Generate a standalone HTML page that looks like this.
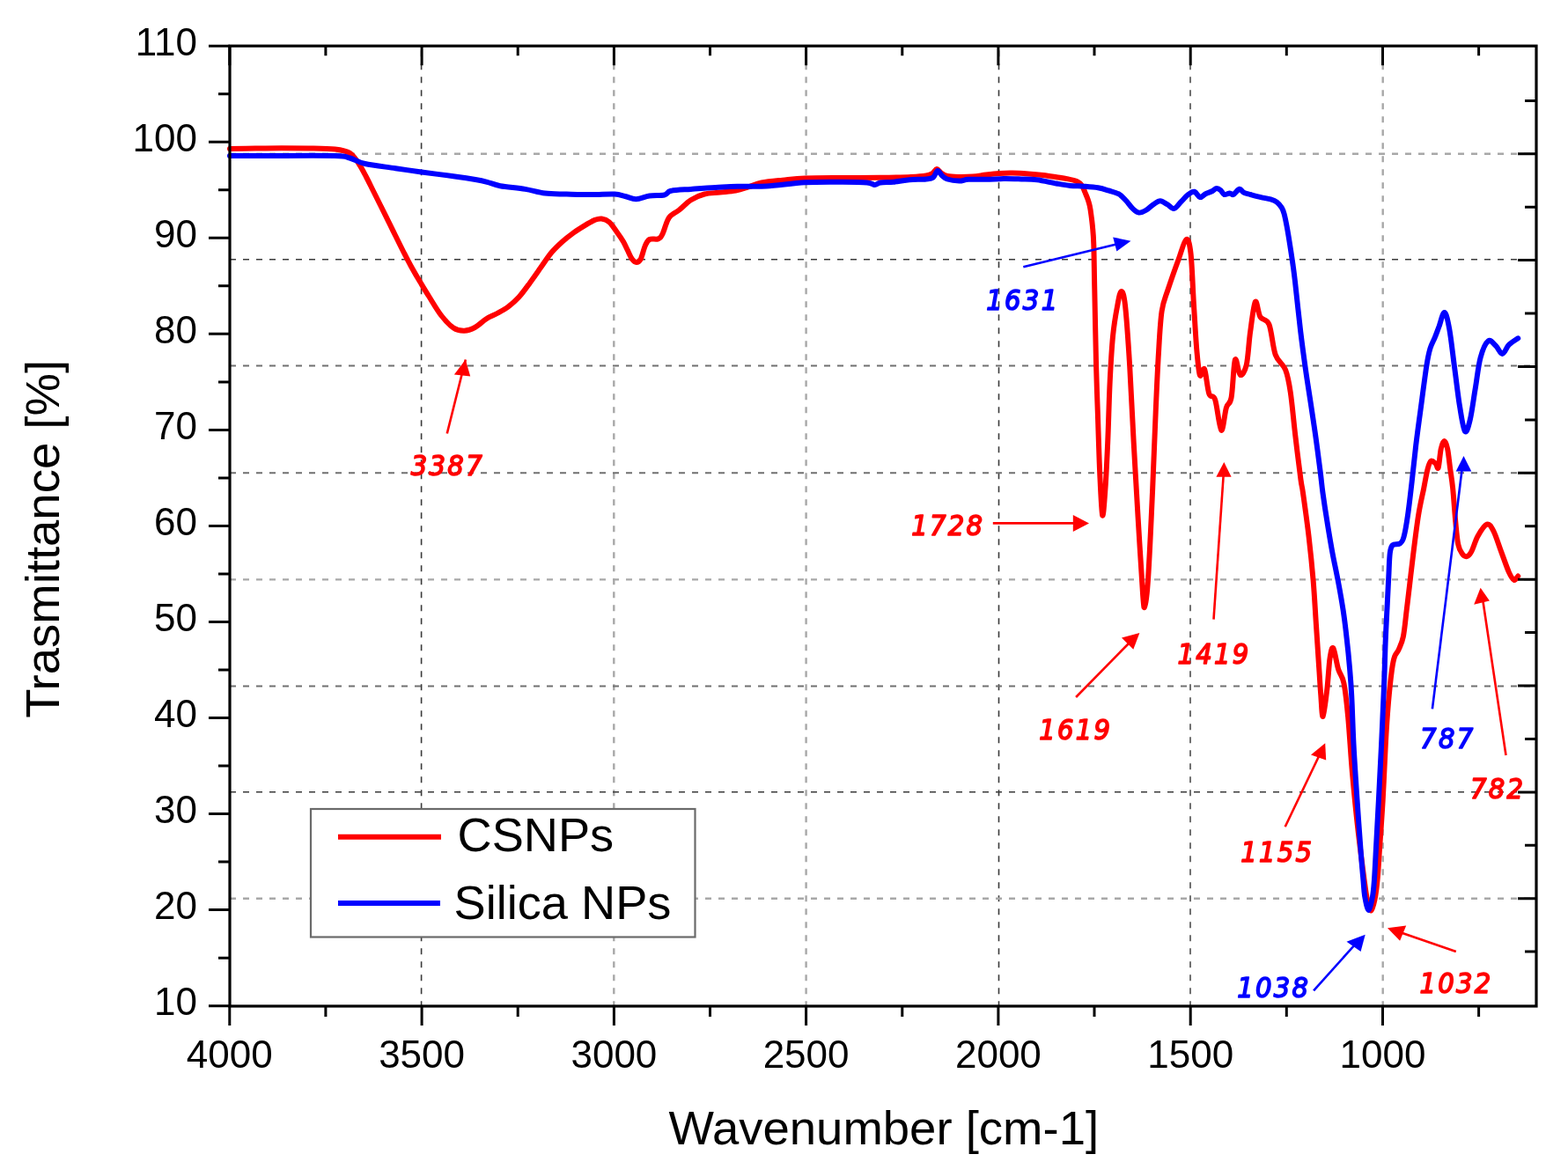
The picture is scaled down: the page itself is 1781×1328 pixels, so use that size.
<!DOCTYPE html><html><head><meta charset="utf-8"><title>FTIR</title><style>html,body{margin:0;padding:0;background:#fff;}svg{display:block;}.tk{font-family:"Liberation Sans",Arial,sans-serif;font-size:44px;fill:#000;}.ax{font-family:"Liberation Sans",Arial,sans-serif;font-size:54.5px;fill:#000;}.lg{font-family:"Liberation Sans",Arial,sans-serif;font-size:54.2px;fill:#000;}.lb{font-family:"DejaVu Sans Condensed","DejaVu Sans",sans-serif;font-stretch:condensed;font-weight:normal;font-style:oblique;font-size:32.3px;stroke-width:1.55px;stroke-linejoin:round;letter-spacing:2.3px;}</style></head><body>
<svg width="1781" height="1328" viewBox="0 0 1781 1328">
<rect width="1781" height="1328" fill="#fff"/>
<line x1="478.6" y1="57.3" x2="478.6" y2="1143.0" stroke="#3a3a3a" stroke-width="1.6" stroke-dasharray="7 8"/>
<line x1="697.3" y1="57.3" x2="697.3" y2="1143.0" stroke="#a8a8a8" stroke-width="2.4" stroke-dasharray="7 8"/>
<line x1="915.6" y1="57.3" x2="915.6" y2="1143.0" stroke="#a8a8a8" stroke-width="2.4" stroke-dasharray="7 8"/>
<line x1="1134.5" y1="57.3" x2="1134.5" y2="1143.0" stroke="#3a3a3a" stroke-width="1.6" stroke-dasharray="7 8"/>
<line x1="1352.0" y1="57.3" x2="1352.0" y2="1143.0" stroke="#707070" stroke-width="2.0" stroke-dasharray="7 8"/>
<line x1="1570.7" y1="57.3" x2="1570.7" y2="1143.0" stroke="#a8a8a8" stroke-width="2.4" stroke-dasharray="7 8"/>
<line x1="261.0" y1="174.8" x2="1745.0" y2="174.8" stroke="#a8a8a8" stroke-width="2.4" stroke-dasharray="7 8"/>
<line x1="261.0" y1="294.7" x2="1745.0" y2="294.7" stroke="#3a3a3a" stroke-width="1.6" stroke-dasharray="7 8"/>
<line x1="261.0" y1="415.5" x2="1745.0" y2="415.5" stroke="#707070" stroke-width="2.0" stroke-dasharray="7 8"/>
<line x1="261.0" y1="537.3" x2="1745.0" y2="537.3" stroke="#707070" stroke-width="2.0" stroke-dasharray="7 8"/>
<line x1="261.0" y1="658.4" x2="1745.0" y2="658.4" stroke="#a8a8a8" stroke-width="2.4" stroke-dasharray="7 8"/>
<line x1="261.0" y1="779.4" x2="1745.0" y2="779.4" stroke="#707070" stroke-width="2.0" stroke-dasharray="7 8"/>
<line x1="261.0" y1="899.8" x2="1745.0" y2="899.8" stroke="#3a3a3a" stroke-width="1.6" stroke-dasharray="7 8"/>
<line x1="261.0" y1="1020.7" x2="1745.0" y2="1020.7" stroke="#a8a8a8" stroke-width="2.4" stroke-dasharray="7 8"/>
<path d="M261.0 169.0C265.8 168.9 280.2 168.7 290.0 168.6C299.8 168.5 310.0 168.2 320.0 168.2C330.0 168.2 339.9 168.2 350.0 168.4C360.1 168.6 372.6 168.6 380.5 169.5C388.4 170.4 392.8 171.1 397.3 173.9C401.8 176.7 404.6 181.7 407.7 186.2C410.8 190.7 413.3 195.9 416.0 201.0C418.7 206.1 421.3 211.7 424.0 217.0C426.7 222.3 429.2 227.4 432.0 233.0C434.8 238.6 437.7 244.5 440.6 250.3C443.5 256.1 446.4 262.1 449.3 268.0C452.2 273.9 455.1 279.8 458.0 285.5C460.9 291.2 463.4 296.2 466.6 302.0C469.8 307.8 473.5 314.2 477.0 320.0C480.5 325.8 483.3 330.6 487.4 337.0C491.4 343.4 496.7 352.6 501.3 358.5C505.9 364.4 510.8 369.6 515.1 372.5C519.4 375.4 523.2 375.8 527.3 375.7C531.3 375.6 535.2 374.2 539.4 372.0C543.6 369.8 548.2 364.9 552.4 362.2C556.6 359.5 560.6 358.3 564.7 356.0C568.8 353.7 573.0 351.7 577.1 348.6C581.2 345.5 585.3 342.0 589.4 337.5C593.5 333.0 597.7 327.0 601.8 321.4C605.9 315.8 610.0 309.9 614.1 304.1C618.2 298.3 622.4 291.7 626.5 286.8C630.6 281.9 634.7 278.2 638.8 274.5C642.9 270.8 647.1 267.6 651.2 264.6C655.3 261.6 659.4 259.1 663.5 256.6C667.6 254.1 672.6 251.2 675.9 249.8C679.2 248.5 680.6 248.1 683.3 248.5C686.0 248.9 689.0 249.7 691.9 252.2C694.8 254.7 697.9 259.7 700.6 263.4C703.3 267.1 706.0 271.0 708.0 274.5C710.0 278.0 711.2 281.1 712.9 284.4C714.5 287.7 716.2 291.9 717.9 294.2C719.5 296.4 721.1 297.9 722.8 297.9C724.4 297.9 726.1 297.3 727.8 294.2C729.4 291.1 731.1 283.1 732.7 279.4C734.4 275.7 735.2 273.3 737.7 272.0C740.2 270.7 745.0 272.4 747.5 271.4C750.0 270.4 750.4 269.8 752.5 265.8C754.6 261.8 756.7 251.9 759.9 247.3C763.1 242.8 767.4 241.8 771.5 238.5C775.6 235.2 779.9 230.2 784.7 227.2C789.5 224.2 794.7 221.9 800.2 220.5C805.7 219.1 812.0 219.3 817.9 218.6C823.8 217.9 830.2 217.5 835.6 216.5C841.0 215.5 845.1 214.0 850.0 212.5C854.9 211.0 858.6 208.8 865.1 207.5C871.6 206.2 880.5 205.5 888.7 204.7C896.9 203.9 903.3 202.9 914.3 202.5C925.3 202.1 940.4 202.1 954.7 202.0C969.0 201.9 986.6 202.0 1000.0 201.8C1013.4 201.6 1026.3 201.4 1035.0 201.0C1043.7 200.6 1048.0 200.2 1052.0 199.5C1056.0 198.8 1057.0 198.2 1059.0 197.0C1061.0 195.8 1062.3 192.1 1064.0 192.0C1065.7 191.9 1067.0 195.2 1069.0 196.5C1071.0 197.8 1072.8 199.2 1076.0 200.0C1079.2 200.8 1083.2 200.9 1088.0 201.0C1092.8 201.1 1099.7 201.0 1105.0 200.6C1110.3 200.2 1115.0 199.1 1120.0 198.5C1125.0 197.9 1130.0 197.3 1135.0 197.0C1140.0 196.7 1144.5 196.5 1150.0 196.6C1155.5 196.7 1162.2 197.1 1168.0 197.5C1173.8 197.9 1179.7 198.4 1185.0 199.0C1190.3 199.6 1195.5 200.5 1200.0 201.2C1204.5 201.9 1207.9 202.3 1211.8 203.1C1215.7 203.9 1220.7 204.9 1223.6 206.2C1226.5 207.5 1227.7 209.0 1229.1 211.0C1230.5 213.0 1231.2 215.5 1232.2 218.0C1233.2 220.5 1234.5 223.3 1235.4 225.9C1236.3 228.5 1237.0 230.5 1237.7 233.7C1238.4 236.9 1239.0 240.9 1239.5 245.0C1240.0 249.1 1240.5 252.5 1241.0 258.0C1241.5 263.5 1241.9 266.0 1242.3 277.9C1242.7 289.8 1242.8 306.3 1243.3 329.3C1243.8 352.3 1244.5 392.9 1245.1 416.0C1245.7 439.1 1246.1 447.8 1246.8 468.0C1247.5 488.2 1248.3 517.7 1249.2 537.3C1250.1 556.9 1251.2 582.6 1252.2 585.5C1253.2 588.4 1254.5 568.4 1255.5 554.6C1256.5 540.8 1257.3 522.8 1258.2 502.6C1259.1 482.4 1259.7 453.5 1260.7 433.3C1261.7 413.1 1262.7 395.7 1264.1 381.3C1265.5 366.9 1267.7 355.1 1269.3 346.7C1270.9 338.3 1272.0 331.1 1273.5 331.1C1275.0 331.1 1276.4 332.6 1278.0 346.7C1279.6 360.8 1281.6 390.0 1283.2 416.0C1284.8 442.0 1286.1 473.7 1287.7 502.6C1289.3 531.5 1291.0 560.2 1292.7 589.3C1294.5 618.4 1296.9 660.5 1298.2 677.0C1299.5 693.5 1299.5 691.1 1300.5 688.0C1301.5 684.9 1302.5 680.8 1304.0 658.6C1305.5 636.4 1307.8 586.4 1309.2 554.6C1310.7 522.8 1311.6 494.0 1312.7 468.0C1313.8 442.0 1314.9 417.7 1316.1 398.6C1317.2 379.5 1317.9 365.2 1319.6 353.6C1321.3 342.1 1323.3 339.1 1326.5 329.3C1329.7 319.5 1335.1 304.2 1338.6 294.7C1342.1 285.2 1345.0 273.3 1347.3 272.1C1349.6 270.9 1351.0 275.3 1352.5 287.7C1354.0 300.1 1354.8 328.2 1356.0 346.7C1357.2 365.2 1358.2 385.3 1359.4 398.6C1360.6 411.9 1361.5 422.9 1362.9 426.4C1364.4 429.9 1366.4 415.9 1368.1 419.4C1369.8 422.9 1371.3 441.4 1373.3 447.2C1375.3 453.0 1377.9 447.2 1380.2 454.1C1382.5 461.0 1385.1 487.3 1387.2 488.8C1389.3 490.3 1391.0 469.3 1392.9 463.1C1394.8 456.9 1396.9 460.7 1398.6 451.6C1400.3 442.5 1401.2 413.0 1402.9 408.7C1404.6 404.4 1406.4 424.9 1408.6 425.9C1410.8 426.8 1413.9 422.5 1415.8 414.4C1417.7 406.3 1418.4 389.1 1420.1 377.2C1421.8 365.3 1423.9 345.8 1425.8 342.9C1427.7 340.0 1428.9 355.8 1431.5 360.1C1434.1 364.4 1438.6 361.5 1441.5 368.6C1444.4 375.8 1445.6 394.4 1448.7 403.0C1451.8 411.6 1457.2 413.0 1460.1 420.1C1462.9 427.2 1463.9 433.0 1465.8 445.9C1467.7 458.8 1469.6 480.9 1471.6 497.4C1473.5 513.9 1476.1 534.6 1477.5 545.0C1478.9 555.4 1478.5 549.2 1480.0 560.0C1481.5 570.8 1484.7 593.2 1486.6 609.7C1488.5 626.2 1490.2 642.8 1491.6 659.3C1493.0 675.8 1493.8 692.4 1494.9 709.0C1496.0 725.6 1497.3 745.2 1498.2 758.7C1499.1 772.2 1499.5 780.8 1500.3 790.0C1501.0 799.2 1501.5 815.2 1502.7 813.9C1503.9 812.6 1506.1 793.4 1507.4 782.3C1508.7 771.2 1509.4 755.1 1510.6 747.5C1511.8 739.9 1512.8 734.3 1514.4 736.4C1516.0 738.5 1518.1 753.6 1520.1 760.2C1522.1 766.8 1524.6 767.0 1526.4 776.0C1528.2 785.0 1529.5 797.0 1531.1 813.9C1532.7 830.8 1534.1 856.1 1535.9 877.2C1537.8 898.3 1539.8 919.3 1542.2 940.4C1544.6 961.5 1548.2 989.5 1550.1 1003.6C1552.0 1017.7 1552.3 1019.9 1553.5 1025.0C1554.7 1030.2 1556.2 1035.0 1557.5 1034.5C1558.8 1034.0 1560.3 1027.8 1561.5 1022.0C1562.7 1016.2 1563.7 1008.3 1564.5 1000.0C1565.3 991.7 1565.5 987.2 1566.5 972.0C1567.5 956.8 1569.5 929.9 1570.7 908.8C1571.9 887.7 1572.8 864.0 1573.8 845.5C1574.8 827.0 1575.8 812.4 1577.0 798.1C1578.2 783.9 1579.9 768.7 1581.1 760.0C1582.3 751.3 1582.8 749.4 1584.1 745.7C1585.3 742.1 1587.0 741.9 1588.6 738.1C1590.2 734.3 1592.4 730.6 1593.9 723.1C1595.4 715.6 1596.5 703.0 1597.7 693.0C1598.9 683.0 1600.1 673.2 1601.3 662.8C1602.5 652.4 1603.5 643.5 1605.1 630.6C1606.7 617.7 1609.1 598.0 1611.1 585.4C1613.1 572.8 1615.3 564.1 1617.1 555.3C1618.8 546.5 1620.2 538.0 1621.6 532.7C1623.0 527.4 1623.9 524.7 1625.4 523.7C1626.9 522.7 1629.3 525.5 1630.7 526.7C1632.1 528.0 1632.7 534.0 1633.7 531.2C1634.7 528.4 1635.6 515.1 1636.7 510.1C1637.8 505.1 1639.2 501.1 1640.5 501.1C1641.8 501.1 1643.1 504.8 1644.2 510.1C1645.3 515.4 1646.2 525.2 1647.2 532.7C1648.2 540.2 1649.2 545.2 1650.2 555.3C1651.2 565.3 1652.3 582.5 1653.3 593.0C1654.3 603.5 1655.0 612.6 1656.3 618.6C1657.5 624.6 1659.2 626.9 1660.8 629.1C1662.4 631.4 1664.3 632.5 1666.1 632.1C1667.8 631.7 1669.2 630.5 1671.3 626.6C1673.4 622.8 1675.7 614.1 1678.6 609.0C1681.5 603.9 1686.0 596.7 1688.9 595.7C1691.9 594.7 1693.6 598.0 1696.3 603.1C1699.0 608.2 1702.2 618.8 1705.1 626.6C1708.0 634.4 1711.5 644.7 1713.9 650.1C1716.4 655.5 1718.1 658.2 1719.8 658.9C1721.5 659.6 1723.5 655.2 1724.2 654.5" fill="none" stroke="#ff0000" stroke-width="6" stroke-linejoin="round" stroke-linecap="round"/>
<path d="M261.0 177.0C267.5 177.0 280.2 177.0 300.0 177.0C319.8 177.0 363.8 176.6 380.0 177.0C396.2 177.4 391.5 178.0 397.3 179.5C403.1 181.0 405.9 184.1 414.6 186.0C423.3 187.9 438.6 189.6 449.3 191.2C460.0 192.8 467.2 193.9 478.8 195.5C490.4 197.1 508.4 199.3 518.6 200.7C528.8 202.1 534.2 203.0 540.0 204.0C545.8 205.0 548.6 205.6 553.3 206.8C558.0 208.0 561.0 209.8 568.2 211.2C575.4 212.5 588.0 213.5 596.5 214.9C605.0 216.3 611.2 218.7 619.0 219.6C626.8 220.5 634.7 220.3 643.5 220.6C652.3 220.8 662.7 221.1 671.8 221.1C680.9 221.1 691.7 220.3 698.1 220.6C704.5 220.9 705.9 222.1 710.0 223.0C714.1 223.9 718.0 226.3 722.6 226.2C727.2 226.1 732.3 223.3 737.6 222.5C742.9 221.7 750.5 222.4 754.6 221.5C758.7 220.6 757.1 217.9 762.1 216.8C767.1 215.7 776.2 215.5 784.7 214.9C793.2 214.3 804.1 213.5 812.9 213.0C821.7 212.5 827.8 211.9 837.4 211.7C847.0 211.4 857.7 212.2 870.5 211.5C883.3 210.8 899.9 208.0 914.3 207.2C928.7 206.4 945.2 206.7 957.0 206.7C968.8 206.7 978.9 206.8 985.0 207.4C991.1 208.0 991.0 210.0 993.5 210.0C996.0 210.0 996.4 208.1 1000.0 207.5C1003.6 206.9 1009.5 207.2 1015.0 206.7C1020.5 206.2 1026.8 204.9 1033.0 204.3C1039.2 203.8 1047.5 203.9 1052.0 203.4C1056.5 202.9 1057.8 203.1 1060.0 201.5C1062.2 199.9 1063.3 194.3 1065.0 194.0C1066.7 193.7 1068.2 197.9 1070.0 199.5C1071.8 201.1 1072.8 202.5 1076.0 203.5C1079.2 204.5 1085.5 205.5 1089.5 205.6C1093.5 205.7 1094.9 204.1 1100.0 203.8C1105.1 203.5 1113.3 203.9 1120.0 203.8C1126.7 203.7 1133.3 203.1 1140.0 203.0C1146.7 202.9 1153.7 203.2 1160.0 203.4C1166.3 203.6 1171.3 203.5 1178.0 204.3C1184.7 205.2 1193.7 207.4 1200.0 208.5C1206.3 209.6 1210.5 210.4 1215.7 210.9C1220.9 211.4 1226.2 211.3 1231.4 211.7C1236.7 212.1 1242.6 212.5 1247.2 213.3C1251.8 214.1 1255.1 215.2 1259.0 216.4C1262.9 217.6 1267.5 218.6 1270.8 220.4C1274.1 222.2 1276.0 224.8 1278.6 227.5C1281.2 230.2 1284.0 234.6 1286.5 236.9C1289.0 239.2 1291.0 241.3 1293.6 241.6C1296.2 241.9 1299.5 240.1 1302.2 238.5C1305.0 236.9 1307.5 233.9 1310.1 232.2C1312.7 230.5 1315.3 228.2 1317.9 228.2C1320.5 228.2 1323.2 230.8 1325.8 232.2C1328.4 233.6 1330.9 237.5 1333.6 236.9C1336.3 236.3 1339.1 231.5 1341.8 228.8C1344.5 226.1 1347.2 222.7 1349.7 220.9C1352.2 219.1 1354.5 217.3 1356.7 217.8C1358.9 218.3 1360.9 223.7 1363.0 224.1C1365.1 224.5 1366.9 221.4 1369.3 220.2C1371.7 219.0 1375.1 218.1 1377.2 217.0C1379.3 215.9 1380.3 214.0 1381.9 213.9C1383.5 213.8 1385.2 215.0 1386.6 216.2C1388.0 217.4 1388.8 220.5 1390.5 221.0C1392.2 221.5 1395.1 219.4 1396.8 219.4C1398.5 219.4 1399.0 221.8 1400.8 221.0C1402.6 220.2 1405.8 215.1 1407.8 214.7C1409.8 214.3 1410.4 217.5 1412.5 218.6C1414.6 219.7 1417.1 220.1 1420.4 221.0C1423.7 221.9 1428.4 223.2 1432.2 224.1C1436.0 225.0 1440.2 225.5 1443.2 226.4C1446.2 227.3 1448.2 228.0 1450.3 229.6C1452.4 231.2 1454.4 233.7 1455.8 235.9C1457.2 238.1 1457.6 239.5 1458.6 243.0C1459.6 246.5 1460.5 251.2 1461.6 257.0C1462.7 262.8 1464.0 270.8 1465.1 277.9C1466.2 285.0 1467.4 292.8 1468.4 299.8C1469.4 306.8 1469.5 307.1 1471.0 320.0C1472.5 332.9 1475.3 360.5 1477.3 377.2C1479.3 393.9 1481.1 406.6 1483.0 420.1C1484.9 433.6 1486.9 445.4 1488.8 458.3C1490.7 471.2 1492.8 484.4 1494.6 497.5C1496.4 510.6 1498.5 526.6 1499.8 537.0C1501.1 547.4 1501.2 550.6 1502.5 560.0C1503.8 569.4 1505.7 582.1 1507.5 593.1C1509.3 604.1 1511.1 615.2 1513.1 626.2C1515.1 637.2 1517.6 648.2 1519.7 659.3C1521.8 670.3 1523.8 681.5 1525.5 692.5C1527.2 703.5 1528.5 714.6 1529.7 725.6C1531.0 736.6 1532.1 748.0 1533.0 758.7C1533.9 769.4 1534.5 775.5 1535.2 790.0C1536.0 804.5 1536.5 825.7 1537.5 845.5C1538.5 865.3 1540.1 888.0 1541.5 908.8C1542.9 929.6 1544.7 955.2 1545.9 970.5C1547.1 985.8 1547.8 992.5 1548.5 1000.6C1549.2 1008.7 1549.3 1013.4 1550.3 1019.0C1551.3 1024.6 1553.1 1034.0 1554.5 1034.0C1555.9 1034.0 1557.8 1024.6 1558.9 1019.0C1560.0 1013.4 1560.3 1008.7 1560.9 1000.6C1561.5 992.5 1561.8 985.8 1562.6 970.5C1563.4 955.2 1564.8 929.6 1565.9 908.8C1567.0 888.0 1568.1 867.0 1569.1 845.5C1570.1 824.0 1571.2 799.1 1572.0 780.0C1572.8 760.9 1573.0 746.4 1573.6 730.6C1574.2 714.8 1575.2 698.0 1575.8 685.4C1576.4 672.8 1576.8 664.8 1577.3 655.3C1577.8 645.8 1578.0 634.2 1578.8 628.2C1579.5 622.2 1579.9 621.0 1581.8 619.2C1583.7 617.4 1587.9 619.0 1590.0 617.5C1592.1 616.0 1593.0 615.4 1594.5 610.0C1596.0 604.6 1597.5 595.8 1599.0 585.4C1600.5 575.0 1602.1 561.0 1603.6 547.8C1605.1 534.6 1606.5 520.5 1608.2 506.2C1609.9 491.9 1612.0 477.2 1614.0 462.1C1616.0 447.1 1618.6 426.9 1620.3 415.9C1622.0 404.9 1622.8 401.4 1624.4 396.0C1626.0 390.6 1628.1 387.6 1629.8 383.4C1631.5 379.2 1632.7 375.7 1634.5 371.0C1636.3 366.3 1638.7 354.5 1640.7 355.0C1642.7 355.5 1644.4 363.5 1646.3 374.0C1648.2 384.5 1650.2 403.4 1652.2 418.1C1654.2 432.8 1656.1 450.1 1658.1 462.1C1660.1 474.1 1662.0 487.6 1664.0 490.0C1666.0 492.4 1667.8 484.9 1669.8 476.8C1671.8 468.7 1673.7 453.4 1675.7 441.6C1677.7 429.9 1679.1 415.4 1681.6 406.3C1684.0 397.2 1687.5 389.5 1690.4 387.3C1693.3 385.1 1696.5 390.7 1699.2 393.1C1701.9 395.5 1704.0 402.1 1706.5 401.9C1709.0 401.7 1711.0 394.6 1713.9 391.7C1716.9 388.8 1722.5 385.5 1724.2 384.3" fill="none" stroke="#0000ff" stroke-width="6" stroke-linejoin="round" stroke-linecap="round"/>
<rect x="353" y="919" width="436.5" height="145.5" fill="#fff" stroke="#6a6a6a" stroke-width="2.2"/>
<line x1="384" y1="950.7" x2="501" y2="950.7" stroke="#ff0000" stroke-width="6"/>
<line x1="384" y1="1025.9" x2="500" y2="1025.9" stroke="#0000ff" stroke-width="6"/>
<text class="lg" x="519.5" y="967">CSNPs</text>
<text class="lg" x="515.5" y="1044">Silica NPs</text>
<rect x="261.0" y="52.2" width="1484.0" height="1090.8" fill="none" stroke="#000" stroke-width="3.2"/>
<path d="M237.0 1142.7H261.0 M248.0 1088.2H261.0 M237.0 1033.6H261.0 M248.0 979.1H261.0 M237.0 924.6H261.0 M248.0 870.1H261.0 M237.0 815.5H261.0 M248.0 761.0H261.0 M237.0 706.5H261.0 M248.0 652.0H261.0 M237.0 597.5H261.0 M248.0 542.9H261.0 M237.0 488.4H261.0 M248.0 433.9H261.0 M237.0 379.3H261.0 M248.0 324.8H261.0 M237.0 270.3H261.0 M248.0 215.8H261.0 M237.0 161.2H261.0 M248.0 106.7H261.0 M237.0 52.2H261.0 M1732.0 114.4H1745.0 M1724.0 174.8H1745.0 M1732.0 235.2H1745.0 M1724.0 295.6H1745.0 M1732.0 356.1H1745.0 M1724.0 416.5H1745.0 M1732.0 476.9H1745.0 M1724.0 537.3H1745.0 M1732.0 597.8H1745.0 M1724.0 658.2H1745.0 M1732.0 718.6H1745.0 M1724.0 779.0H1745.0 M1732.0 839.4H1745.0 M1724.0 899.9H1745.0 M1732.0 960.3H1745.0 M1724.0 1020.7H1745.0 M1732.0 1081.1H1745.0 M260.8 1143.0V1165.0 M260.8 52.2V74.2 M369.9 1143.0V1155.0 M369.9 52.2V63.2 M479.1 1143.0V1165.0 M479.1 52.2V74.2 M588.2 1143.0V1155.0 M588.2 52.2V63.2 M697.4 1143.0V1165.0 M697.4 52.2V74.2 M806.5 1143.0V1155.0 M806.5 52.2V63.2 M915.6 1143.0V1165.0 M915.6 52.2V74.2 M1024.8 1143.0V1155.0 M1024.8 52.2V63.2 M1133.9 1143.0V1165.0 M1133.9 52.2V74.2 M1243.0 1143.0V1155.0 M1243.0 52.2V63.2 M1352.2 1143.0V1165.0 M1352.2 52.2V74.2 M1461.3 1143.0V1155.0 M1461.3 52.2V63.2 M1570.5 1143.0V1165.0 M1570.5 52.2V74.2 M1679.6 1143.0V1155.0 M1679.6 52.2V63.2" stroke="#000" stroke-width="3" fill="none"/>
<text class="tk" x="224" y="1153.2" text-anchor="end">10</text>
<text class="tk" x="224" y="1044.1" text-anchor="end">20</text>
<text class="tk" x="224" y="935.1" text-anchor="end">30</text>
<text class="tk" x="224" y="826.0" text-anchor="end">40</text>
<text class="tk" x="224" y="717.0" text-anchor="end">50</text>
<text class="tk" x="224" y="608.0" text-anchor="end">60</text>
<text class="tk" x="224" y="498.9" text-anchor="end">70</text>
<text class="tk" x="224" y="389.8" text-anchor="end">80</text>
<text class="tk" x="224" y="280.8" text-anchor="end">90</text>
<text class="tk" x="224" y="171.8" text-anchor="end">100</text>
<text class="tk" x="224" y="62.7" text-anchor="end">110</text>
<text class="tk" x="260.8" y="1213" text-anchor="middle">4000</text>
<text class="tk" x="479.1" y="1213" text-anchor="middle">3500</text>
<text class="tk" x="697.4" y="1213" text-anchor="middle">3000</text>
<text class="tk" x="915.6" y="1213" text-anchor="middle">2500</text>
<text class="tk" x="1133.9" y="1213" text-anchor="middle">2000</text>
<text class="tk" x="1352.2" y="1213" text-anchor="middle">1500</text>
<text class="tk" x="1570.5" y="1213" text-anchor="middle">1000</text>
<text class="ax" x="1003.8" y="1299.5" text-anchor="middle">Wavenumber [cm-1]</text>
<text class="ax" transform="translate(67,612.3) rotate(-90)" text-anchor="middle">Trasmittance [%]</text>
<line x1="507.8" y1="492.5" x2="528.8" y2="408.5" stroke="#ff0000" stroke-width="2.6"/>
<polygon points="515.9,425.4 528.8,408.5 534.2,427.5" fill="#ff0000"/>
<line x1="1127.8" y1="594.4" x2="1225" y2="594.4" stroke="#ff0000" stroke-width="2.6"/>
<polygon points="1218.8,584.9 1237.0,594.4 1218.8,603.9" fill="#ff0000"/>
<line x1="1162.3" y1="303.2" x2="1270" y2="277" stroke="#0000ff" stroke-width="2.6"/>
<polygon points="1264.2,269.5 1284.5,273.7 1268.4,285.5" fill="#0000ff"/>
<line x1="1222.1" y1="792" x2="1282" y2="731" stroke="#ff0000" stroke-width="2.6"/>
<polygon points="1274.0,724.4 1294.4,718.9 1287.3,737.7" fill="#ff0000"/>
<line x1="1378.5" y1="703.7" x2="1390" y2="535" stroke="#ff0000" stroke-width="2.6"/>
<polygon points="1381.4,541.7 1390.3,524.9 1398.6,541.7" fill="#ff0000"/>
<line x1="1459.7" y1="939.3" x2="1500" y2="855" stroke="#ff0000" stroke-width="2.6"/>
<polygon points="1489.0,857.4 1505.2,844.3 1506.2,863.5" fill="#ff0000"/>
<line x1="1492.1" y1="1125.3" x2="1540" y2="1072" stroke="#0000ff" stroke-width="2.6"/>
<polygon points="1529.5,1069.7 1550.7,1061.7 1545.6,1080.9" fill="#0000ff"/>
<line x1="1653.8" y1="1080.9" x2="1590" y2="1059" stroke="#ff0000" stroke-width="2.6"/>
<polygon points="1576.0,1054.2 1597.2,1051.5 1590.1,1068.7" fill="#ff0000"/>
<line x1="1626.9" y1="805.3" x2="1661" y2="530" stroke="#0000ff" stroke-width="2.6"/>
<polygon points="1653.7,535.5 1662.5,517.9 1671.3,535.5" fill="#0000ff"/>
<line x1="1710.5" y1="858" x2="1684" y2="680" stroke="#ff0000" stroke-width="2.6"/>
<polygon points="1674.2,686.8 1681.6,667.7 1691.9,682.4" fill="#ff0000"/>
<text class="lb" x="466.8" y="540.2" fill="#ff0000" stroke="#ff0000">3387</text>
<text class="lb" x="1035.2" y="608.0" fill="#ff0000" stroke="#ff0000">1728</text>
<text class="lb" x="1120.3" y="352.3" fill="#0000ff" stroke="#0000ff">1631</text>
<text class="lb" x="1180.2" y="840.2" fill="#ff0000" stroke="#ff0000">1619</text>
<text class="lb" x="1337.4" y="753.7" fill="#ff0000" stroke="#ff0000">1419</text>
<text class="lb" x="1409.2" y="979.2" fill="#ff0000" stroke="#ff0000">1155</text>
<text class="lb" x="1613.1" y="850.0" fill="#0000ff" stroke="#0000ff">787</text>
<text class="lb" x="1670.0" y="907.4" fill="#ff0000" stroke="#ff0000">782</text>
<text class="lb" x="1405.2" y="1132.9" fill="#0000ff" stroke="#0000ff">1038</text>
<text class="lb" x="1612.4" y="1127.9" fill="#ff0000" stroke="#ff0000">1032</text>
</svg></body></html>
